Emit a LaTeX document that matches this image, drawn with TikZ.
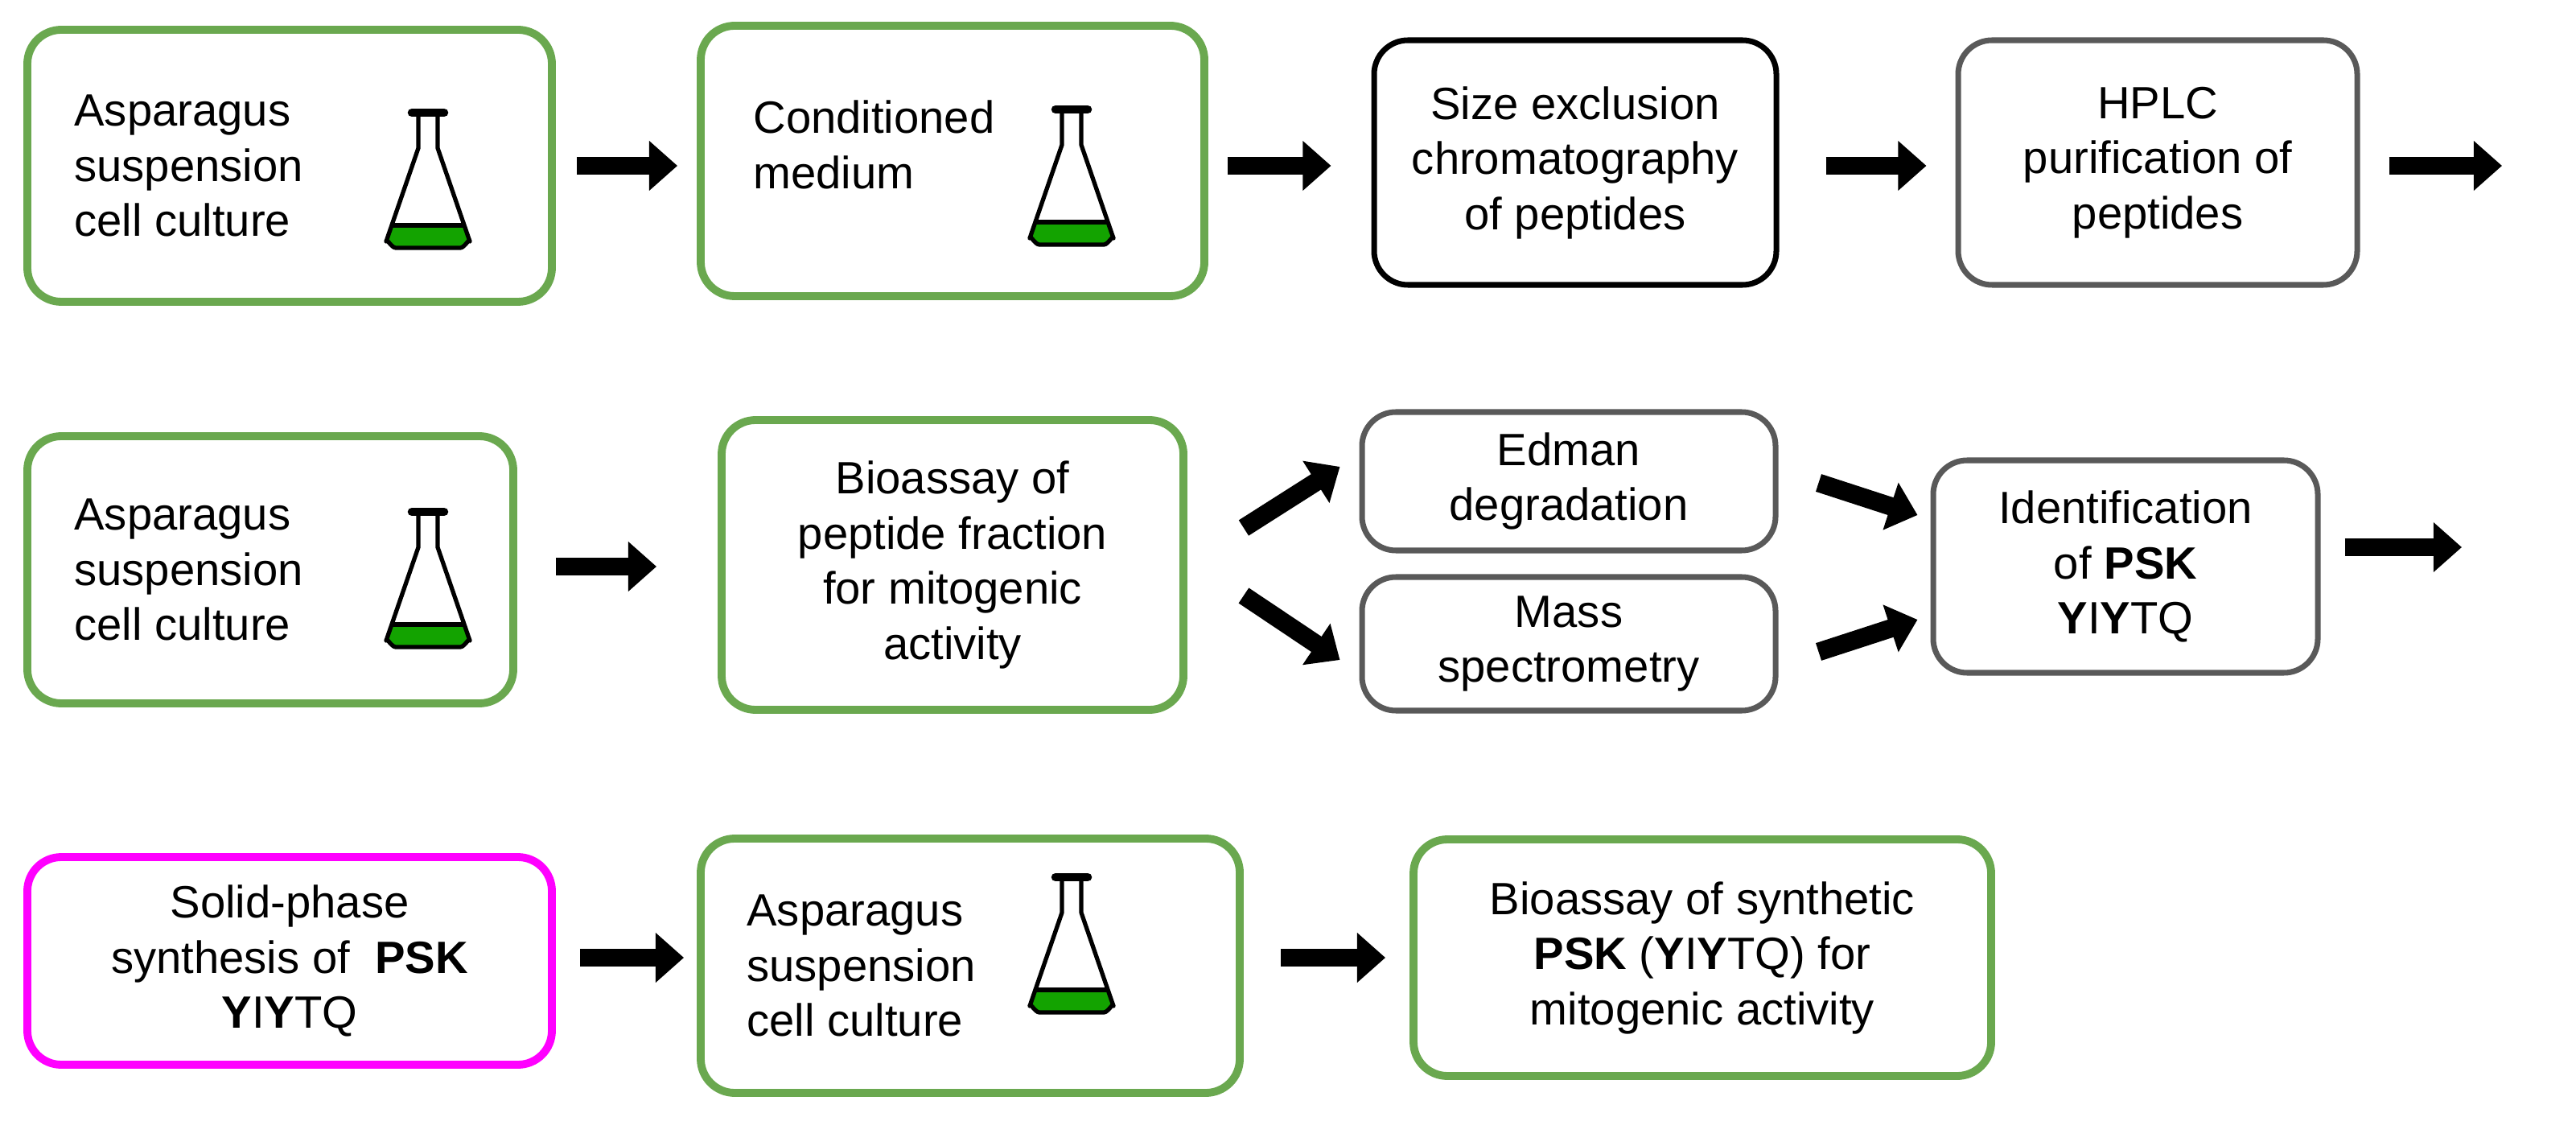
\documentclass[tikz,border=0pt]{standalone}
\usepackage{fontspec}
\setmainfont{Liberation Sans}
\usetikzlibrary{arrows.meta,calc}
\definecolor{gr}{RGB}{106,168,79}
\definecolor{mg}{RGB}{255,0,255}
\begin{document}
\begin{tikzpicture}[x=0.02cm,y=-0.02cm,
 sz/.style 2 args={minimum width=#1*0.02cm,minimum height=#2*0.02cm},
 box/.style={draw,rounded corners=12pt,align=center,font=\fontsize{16}{19.5}\selectfont,inner sep=0pt},
 gbox/.style={box,draw=gr,line width=2.8pt},
 kbox/.style={box,draw=black,line width=2pt},
 ybox/.style={box,draw=black!65,line width=2pt},
 mbox/.style={box,draw=mg,line width=2.8pt},
 txt/.style={align=left,font=\fontsize{16}{19.5}\selectfont,anchor=west},
 arr/.style={line width=6.5pt,-{Triangle[length=10pt,width=17pt]}},
 flask/.pic={
  \fill[green!60!black!90!lime] (-23,30) -- (23,30) -- (26,40) to[out=90,in=0] (20,44) -- (-20,44) to[out=180,in=90] (-26,40) -- cycle;
  \draw[line width=1.5pt,line join=round] (-6,-38) -- (-6,-18) -- (-26,40) to[out=90,in=180] (-20,44) -- (20,44) to[out=0,in=90] (26,40) -- (6,-18) -- (6,-38);
  \draw[line width=1.5pt] (-23,30) -- (23,30);
  \draw[line width=3pt,line cap=round] (-10,-40) -- (10,-40);
 }]
\useasboundingbox (0,0) rectangle (1601,712);
% Row 1
\node[gbox,sz={326}{169}] (b1) at (180,103) {};
\node[txt] (t1) at (40,103) {Asparagus\\suspension\\cell culture};
\pic at (266,110) {flask};
\node[gbox,sz={313}{168}] (b2) at (592,100) {};
\node[txt] (t2) at (462,90) {Conditioned\\medium};
\pic at (666,108) {flask};
\node[kbox,sz={250}{152}] (b3) at (979,101) {Size exclusion\\chromatography\\of peptides};
\node[ybox,sz={248}{152}] (b4) at (1341,101) {HPLC\\purification of\\peptides};
\coordinate (e1) at (1555,103);
% Row 2
\node[gbox,sz={302}{166}] (b5) at (168,354) {};
\node[txt] (t5) at (40,354) {Asparagus\\suspension\\cell culture};
\pic at (266,358) {flask};
\node[gbox,sz={287}{180}] (b6) at (592,351) {Bioassay of\\peptide fraction\\for mitogenic\\activity};
\node[ybox,sz={257}{86}] (b7) at (975,299) {Edman\\degradation};
\node[ybox,sz={257}{83}] (b8) at (975,400) {Mass\\spectrometry};
\node[ybox,sz={239}{132}] (b9) at (1321,352) {Identification\\of \textbf{PSK}\\\textbf{Y}I\textbf{Y}TQ};
\coordinate (e2) at (1530,340);
% Row 3
\node[mbox,sz={326}{129}] (b10) at (180,597) {Solid-phase\\synthesis of \ \textbf{PSK}\\\textbf{Y}I\textbf{Y}TQ};
\node[gbox,sz={335}{158}] (b11) at (603,600) {};
\node[txt] (t11) at (458,600) {Asparagus\\suspension\\cell culture};
\pic at (666,585) {flask};
\node[gbox,sz={359}{147}] (b12) at (1058,595) {Bioassay of synthetic\\\textbf{PSK} (\textbf{Y}I\textbf{Y}TQ) for\\mitogenic activity};
% arrows
\draw[arr] ($(b1.east)+(13,0)$) -- ($(b2.west)+(-12,3)$);
\draw[arr] ($(b2.east)+(12,3)$) -- ($(b3.west)+(-25,2)$);
\draw[arr] ($(b3.east)+(29,2)$) -- ($(b4.west)+(-18,2)$);
\draw[arr] ($(b4.east)+(18,2)$) -- (e1);
\draw[arr] ($(b5.east)+(24,-2)$) -- ($(b6.west)+(-38,1)$);
\draw[arr] ($(b6.east)+(35,-23)$) -- ($(b7.west)+(-12,-9)$);
\draw[arr] ($(b6.east)+(35,19)$) -- ($(b8.west)+(-12,10)$);
\draw[arr] ($(b7.east)+(25,1)$) -- ($(b9.west)+(-8,-32)$);
\draw[arr] ($(b8.east)+(25,5)$) -- ($(b9.west)+(-8,33)$);
\draw[arr] ($(b9.east)+(15,-12)$) -- (e2);
\draw[arr] ($(b10.east)+(15,-2)$) -- ($(b11.west)+(-8,-5)$);
\draw[arr] ($(b11.east)+(23,-5)$) -- ($(b12.west)+(-15,0)$);
\end{tikzpicture}
\end{document}
